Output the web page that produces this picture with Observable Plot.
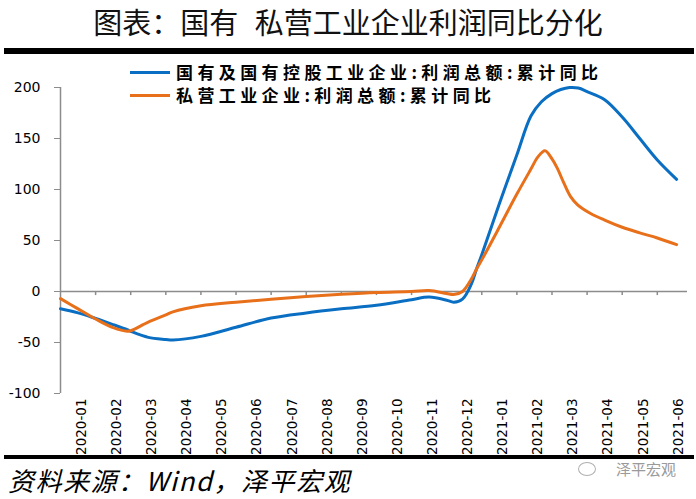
<!DOCTYPE html>
<html><head><meta charset="utf-8">
<script src="https://cdn.jsdelivr.net/npm/d3@7"></script>
<script src="https://cdn.jsdelivr.net/npm/@observablehq/plot@0.6"></script>
<style>
body{margin:0;background:#fff;}
#wrap{position:relative;width:696px;height:499px;overflow:hidden;background:#fff;font-family:"Noto Sans CJK SC",sans-serif;}
#title{position:absolute;top:1px;left:0;width:696px;text-align:center;font-size:29px;line-height:40px;color:#111;white-space:nowrap;word-spacing:10px;}
.bar{position:absolute;left:4px;width:690px;background:#000;}
#chart{position:absolute;top:55px;left:0;}
.leg{position:absolute;left:130px;height:20px;line-height:20px;display:flex;align-items:center;font-size:17px;font-weight:700;letter-spacing:4.4px;color:#000;white-space:nowrap;}
.leg .sw{display:inline-block;width:40px;height:3px;margin-right:6px;}
#caption{position:absolute;left:8px;top:464px;font-size:26px;line-height:32px;font-style:italic;letter-spacing:1.5px;color:#000;white-space:nowrap;}
#wm{position:absolute;left:578px;top:459px;font-size:15px;line-height:20px;color:#9a9a9a;display:flex;align-items:center;}
#wm .ic{display:inline-block;width:16px;height:12px;border:1.5px solid #b0b0b0;border-radius:50%;margin-right:20px;}
</style></head><body>
<div id="wrap">
  <div id="title">图表：国有 私营工业企业利润同比分化</div>
  <div class="bar" style="top:48px;height:6px"></div>
  <div id="chart"></div>
  <div id="legend"></div>
  <div class="bar" style="top:455px;height:4px"></div>
  <div id="caption">资料来源：Wind，泽平宏观</div>
  <div id="wm"><span class="ic"></span>泽平宏观</div>
</div>
<script>
const months = ["2020-01","2020-02","2020-03","2020-04","2020-05","2020-06","2020-07","2020-08","2020-09","2020-10","2020-11","2020-12","2021-01","2021-02","2021-03","2021-04","2021-05","2021-06"];
const yTicks = [-100, -50, 0, 50, 100, 150, 200];
const seriesNames = ["国有及国有控股工业企业:利润总额:累计同比", "私营工业企业:利润总额:累计同比"];
const colors = ["#0a6fc2", "#e8701a"];
// state-owned series: sample positions (months from 2020-01) and values
const soePos = [0, 0.5, 1, 1.5, 1.9, 2, 2.5, 3, 3.2, 4, 5, 6, 7, 8, 9, 10, 10.5, 11, 11.2, 11.45, 11.7, 11.85, 12, 12.5, 13, 13.4, 13.7, 14, 14.25, 14.5, 14.75, 15, 15.5, 16, 16.5, 17, 17.55];
const soe    = [-17, -21, -26.5, -32.5, -37.5, -39, -45, -47, -47.5, -44, -35, -26, -21, -17, -13.5, -8, -5.5, -8.5, -10.5, -7.5, 7, 22, 36, 86, 134, 172, 186, 194, 198, 200, 199.5, 196, 188, 171, 150, 129, 110];
// private series: sample positions and values
const pvtPos = [0, 0.5, 1, 1.5, 1.9, 2, 2.5, 3, 3.2, 4, 5, 6, 7, 8, 9, 10, 10.5, 11, 11.2, 11.45, 11.7, 11.85, 12, 12.5, 13, 13.4, 13.6, 13.8, 14, 14.15, 14.33, 14.53, 14.73, 15.1, 15.5, 16, 16.5, 17, 17.55];
const pvt    = [-7, -17, -27, -35.5, -39, -38.5, -30, -23, -20, -14, -10.5, -7.5, -5, -2.8, -1, 0, 1, -2, -3, 0, 12, 22, 31, 63, 95.5, 120, 132, 138, 130, 121, 107, 93, 85, 76.5, 70, 63, 57.5, 52.5, 46];

const labelOffset = 0.6;
const labelPos = months.map((m, i) => i + labelOffset);
const axisGray = "#8c8c8c";

const chart = Plot.plot({
  width: 696, height: 400,
  marginTop: 32, marginBottom: 62, marginLeft: 60, marginRight: 9,
  x: {domain: [0, 17.86], axis: null},
  y: {domain: [-100, 200], axis: null},
  style: {fontFamily: "'DejaVu Sans', Verdana, sans-serif", fontSize: "14px", color: "#000", background: "#fff"},
  marks: [
    Plot.axisY(yTicks, {tickSize: 6, tickPadding: 14, stroke: axisGray, fill: "#000", fontSize: 14, tickFormat: d => String(d), label: null}),
    Plot.ruleX([0], {stroke: axisGray, strokeWidth: 1.5}),
    Plot.ruleY([0], {stroke: axisGray, strokeWidth: 1.5}),
    Plot.ruleX(d3.range(1, months.length), {y1: 0, y2: -4, stroke: axisGray, strokeWidth: 1.5}),
    Plot.axisX(labelPos, {anchor: "bottom", tickSize: 0, tickPadding: 5, tickRotate: -90, fontSize: 13.5, tickFormat: d => months[Math.round(d - labelOffset)], label: null}),
    Plot.line(soePos.map((t, i) => ({t, v: soe[i]})), {x: "t", y: "v", stroke: colors[0], strokeWidth: 3, curve: "catmull-rom"}),
    Plot.line(pvtPos.map((t, i) => ({t, v: pvt[i]})), {x: "t", y: "v", stroke: colors[1], strokeWidth: 3, curve: "catmull-rom"})
  ]
});
document.getElementById("chart").appendChild(chart);

const legend = document.getElementById("legend");
const legTops = [62, 85];
seriesNames.forEach((name, i) => {
  const d = document.createElement("div");
  d.className = "leg";
  d.style.top = legTops[i] + "px";
  d.innerHTML = `<span class="sw" style="background:${colors[i]}"></span>${name}`;
  legend.appendChild(d);
});
</script>
</body></html>
